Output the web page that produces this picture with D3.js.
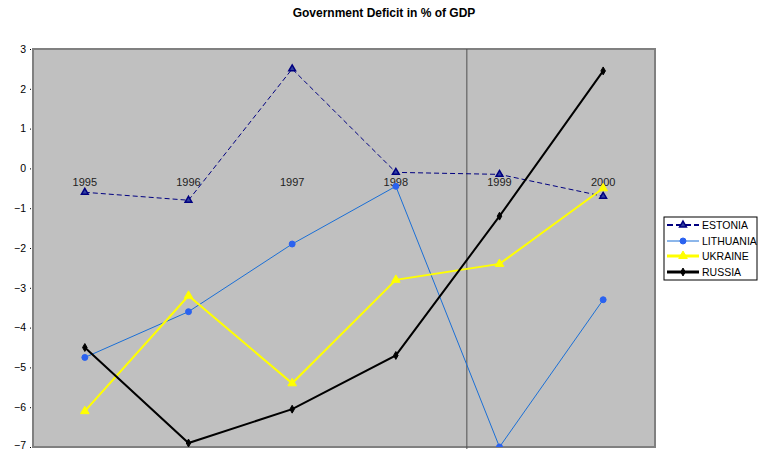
<!DOCTYPE html>
<html><head><meta charset="utf-8">
<script src="https://cdn.jsdelivr.net/npm/d3@7"></script>
<style>body{margin:0;background:#fff}svg{display:block;font-family:Arial,"Liberation Sans",sans-serif}</style>
</head><body><svg id="c" width="758" height="451"></svg>
<script>
const years = ["1995","1996","1997","1998","1999","2000"];
const estonia   = [-0.6, -0.8, 2.5, -0.1, -0.15, -0.7];
const lithuania = [-4.75, -3.6, -1.9, -0.45, -7.0, -3.3];
const ukraine   = [-6.1, -3.2, -5.4, -2.8, -2.4, -0.5];
const russia    = [-4.5, -6.9, -6.05, -4.7, -1.2, 2.45];
const yTicks = [3, 2, 1, 0, -1, -2, -3, -4, -5, -6, -7];
const seriesNames = ["ESTONIA", "LITHUANIA", "UKRAINE", "RUSSIA"];
const dividerPos = 3.685; // vertical line position in category units

const svg = d3.select("#c");
const L = 33, R = 655, T = 49, B = 447;
const x = d3.scalePoint().domain(years).range([L, R]).padding(0.5);
const xi = d3.scaleLinear().domain([-0.5, 5.5]).range([L, R]);
const y = d3.scaleLinear().domain([-7, 3]).range([B, T]);

// title
svg.append("text").attr("x", 384).attr("y", 17).attr("text-anchor", "middle")
  .attr("font-size", 12).attr("font-weight", "bold").text("Government Deficit in % of GDP");

// plot area
svg.append("rect").attr("x", L).attr("y", T).attr("width", R - L).attr("height", B - T)
  .attr("fill", "#c0c0c0").attr("stroke", "#808080").attr("stroke-width", 2);

// y axis
const yAxis = d3.axisLeft(y).tickValues(yTicks).tickSize(1).tickPadding(4).tickFormat(d3.format("d"));
const ga = svg.append("g").attr("transform", `translate(${L - 2},0)`).call(yAxis);
ga.select(".domain").remove();
ga.selectAll("line").attr("stroke", "#000");
ga.selectAll("text").attr("font-size", 10.5).attr("fill", "#000").attr("font-family", "Arial,'Liberation Sans',sans-serif")
  .attr("dy", d => d === -7 ? "0.1em" : "0.32em");

// vertical divider
svg.append("line").attr("x1", xi(dividerPos)).attr("x2", xi(dividerPos)).attr("y1", T).attr("y2", B + 2)
  .attr("stroke", "#505050").attr("stroke-width", 1);

// category labels at zero line
svg.append("g").selectAll("text").data(years).join("text")
  .attr("x", d => x(d)).attr("y", y(0) + 18).attr("text-anchor", "middle")
  .attr("font-size", 11).attr("fill", "#222").text(d => d);

svg.append("clipPath").attr("id", "pc").append("rect")
  .attr("x", L).attr("y", T - 6).attr("width", R - L).attr("height", B - T + 6);

const line = d3.line().x((d, i) => x(years[i])).y(d => y(d));
const styles = [
  {data: estonia, color: "#000080", w: 1, dash: "5,3", sym: d3.symbolTriangle, size: 20, fill: "#3040a0", mstroke: "#000080"},
  {data: lithuania, color: "#1a6fd6", w: 1, dash: null, sym: d3.symbolCircle, size: 28, fill: "#2a62f0", mstroke: "#2a62f0"},
  {data: ukraine, color: "#ffff00", w: 2, dash: null, sym: d3.symbolTriangle, size: 32, fill: "#ffff00", mstroke: "#ffff00"},
  {data: russia, color: "#000000", w: 2, dash: null, sym: d3.symbolDiamond, size: 18, fill: "#000", mstroke: "#000"}
];
const g = svg.append("g").attr("clip-path", "url(#pc)");
styles.forEach(s => {
  g.append("path").attr("d", line(s.data)).attr("fill", "none").attr("stroke", s.color)
    .attr("stroke-width", s.w).attr("stroke-dasharray", s.dash);
});
styles.forEach((s, k) => {
  g.selectAll(null).data(s.data).join("path")
    .attr("transform", (d, i) => `translate(${x(years[i])},${y(d)})`)
    .attr("d", d3.symbol().type(s.sym).size(s.size))
    .attr("fill", s.fill).attr("stroke", s.mstroke).attr("stroke-width", k === 0 ? 1.5 : 1);
});

// legend
const lg = svg.append("g");
lg.append("rect").attr("x", 664).attr("y", 217).attr("width", 93).attr("height", 63)
  .attr("fill", "#fff").attr("stroke", "#000").attr("stroke-width", 1);
const rows = [225, 241, 256, 272];
styles.forEach((s, k) => {
  lg.append("line").attr("x1", 667).attr("x2", 699).attr("y1", rows[k]).attr("y2", rows[k])
    .attr("stroke", s.color).attr("stroke-width", k >= 2 ? 3 : (k === 0 ? 2 : 1)).attr("stroke-dasharray", s.dash ? "6,3" : null);
  lg.append("path").attr("transform", `translate(683,${rows[k]})`)
    .attr("d", d3.symbol().type(s.sym).size(s.size)).attr("fill", s.fill)
    .attr("stroke", s.mstroke).attr("stroke-width", k === 0 ? 1.5 : 1);
  lg.append("text").attr("x", 702).attr("y", rows[k] + 4).attr("font-size", 10.5).attr("fill", "#000").text(seriesNames[k]);
});
</script></body></html>
